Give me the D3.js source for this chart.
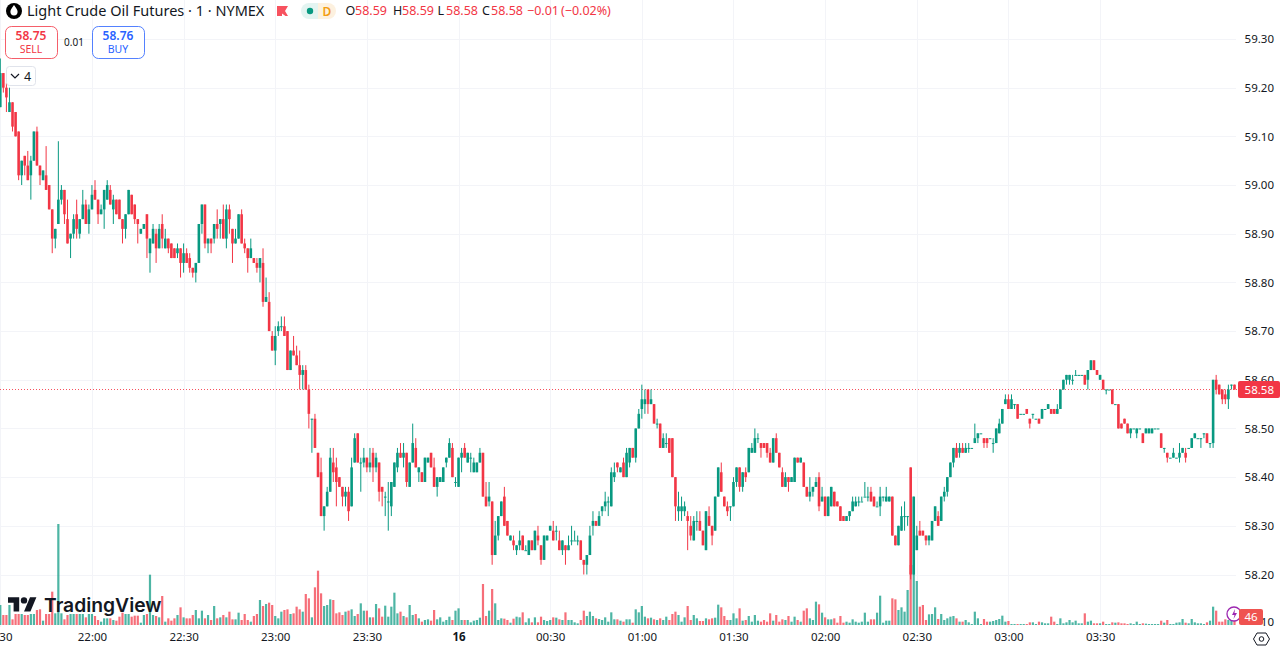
<!DOCTYPE html>
<html>
<head>
<meta charset="utf-8">
<title>Light Crude Oil Futures</title>
<script src="https://cdn.jsdelivr.net/npm/d3@7"></script>
<style>
    html, body { margin: 0; padding: 0; background: #fff; overflow: hidden; }
    text { font-family: "Noto Sans", Roboto, sans-serif; fill: #131722; }
</style>
</head>
<body>
<div id="chart"></div>
<script>
"use strict";

// one candle per minute, prices in hundredths of a dollar
const opens = [
5916,5923,5920,5915,5917,5915,5911,5902,5906,5904,
5902,5905,5911,5904,5901,5902,5900,5895,5889,5892,
5897,5899,5893,5889,5890,5894,5890,5893,5896,5892,
5895,5899,5897,5894,5895,5897,5899,5895,5897,5897,
5893,5891,5894,5898,5896,5893,5890,5891,5894,5886,
5888,5890,5887,5892,5887,5889,5888,5887,5886,5887,
5884,5886,5885,5883,5882,5884,5892,5896,5888,5889,
5889,5892,5892,5893,5889,5895,5891,5888,5889,5894,
5888,5887,5885,5885,5884,5883,5884,5876,5876,5869,
5866,5870,5871,5871,5870,5862,5866,5865,5863,5861,
5862,5858,5852,5852,5845,5841,5832,5834,5837,5843,
5842,5840,5838,5836,5837,5834,5843,5849,5843,5843,
5844,5842,5845,5842,5843,5838,5836,5835,5834,5838,
5842,5845,5844,5845,5838,5843,5846,5841,5841,5839,
5843,5845,5842,5838,5839,5839,5843,5844,5846,5839,
5838,5844,5846,5843,5844,5841,5841,5843,5845,5836,
5835,5835,5824,5828,5832,5836,5831,5827,5827,5825,
5826,5828,5825,5824,5827,5825,5828,5826,5823,5827,
5829,5829,5829,5827,5825,5826,5825,5827,5827,5827,
5827,5823,5822,5824,5830,5831,5830,5833,5834,5835,
5834,5840,5843,5841,5843,5840,5843,5846,5844,5850,
5854,5855,5858,5855,5855,5851,5851,5846,5847,5848,
5848,5840,5833,5833,5833,5832,5830,5827,5831,5831,
5829,5825,5832,5830,5829,5836,5841,5836,5834,5834,
5834,5839,5842,5838,5841,5841,5845,5845,5848,5847,
5847,5847,5845,5843,5848,5845,5841,5838,5840,5839,
5839,5844,5843,5843,5838,5836,5837,5838,5840,5835,
5836,5832,5834,5837,5835,5834,5832,5831,5832,5833,
5834,5835,5835,5836,5836,5837,5836,5834,5834,5836,
5835,5835,5836,5828,5826,5829,5832,5832,5842,5820,
5825,5829,5829,5828,5827,5827,5831,5832,5831,5836,
5837,5840,5843,5846,5845,5846,5845,5846,5846,5847,
5848,5849,5848,5848,5848,5847,5847,5849,5851,5855,
5856,5854,5855,5855,5853,5853,5854,5852,5853,5852,
5852,5852,5854,5854,5854,5854,5853,5854,5858,5860,
5860,5860,5861,5861,5861,5861,5860,5862,5864,5862,
5860,5860,5858,5858,5858,5855,5855,5851,5852,5851,
5849,5850,5849,5850,5849,5849,5849,5849,5850,5850,
5849,5846,5845,5844,5844,5844,5844,5845,5845,5846,
5846,5848,5848,5848,5849,5849,5847,5847,5860,5859,
5858,5857,5856,5859,5859];

const closes = [
5923,5920,5918,5917,5912,5910,5902,5905,5904,5901,
5905,5911,5904,5902,5903,5899,5895,5889,5891,5897,
5899,5894,5888,5890,5893,5891,5893,5896,5892,5895,
5898,5897,5894,5895,5899,5900,5896,5897,5894,5893,
5891,5894,5899,5894,5893,5892,5891,5892,5889,5889,
5891,5887,5891,5889,5889,5887,5885,5885,5887,5884,
5886,5884,5883,5882,5884,5892,5896,5888,5889,5888,
5892,5891,5893,5889,5895,5893,5888,5889,5894,5888,
5887,5885,5887,5884,5883,5885,5876,5877,5870,5866,
5869,5871,5871,5869,5862,5866,5865,5863,5861,5862,
5858,5853,5852,5846,5840,5832,5834,5837,5844,5841,
5839,5838,5836,5837,5833,5842,5848,5843,5843,5844,
5842,5843,5842,5844,5837,5837,5836,5835,5839,5843,
5845,5844,5845,5839,5843,5847,5842,5842,5839,5844,
5844,5842,5838,5840,5840,5842,5844,5847,5840,5839,
5844,5845,5844,5845,5844,5843,5843,5845,5836,5834,
5836,5824,5828,5832,5835,5830,5828,5828,5826,5826,
5827,5825,5825,5827,5825,5829,5827,5823,5828,5828,
5830,5827,5829,5825,5827,5825,5826,5827,5827,5827,
5823,5822,5824,5828,5831,5830,5832,5834,5835,5835,
5841,5841,5842,5842,5840,5845,5846,5844,5850,5853,
5856,5856,5855,5856,5851,5851,5846,5848,5847,5845,
5840,5834,5834,5834,5834,5831,5828,5831,5831,5829,
5826,5833,5830,5828,5836,5842,5837,5834,5833,5834,
5839,5842,5838,5841,5840,5846,5846,5848,5848,5846,
5846,5845,5843,5848,5845,5842,5838,5840,5839,5840,
5844,5843,5844,5838,5836,5837,5838,5839,5834,5836,
5832,5836,5838,5834,5834,5831,5831,5832,5833,5835,
5835,5835,5835,5836,5836,5835,5834,5834,5836,5836,
5836,5836,5828,5826,5830,5832,5832,5832,5820,5836,
5828,5828,5828,5827,5828,5831,5834,5830,5836,5837,
5840,5843,5846,5844,5846,5845,5846,5846,5846,5848,
5849,5849,5847,5847,5848,5847,5850,5851,5854,5856,
5854,5856,5855,5852,5853,5853,5853,5851,5853,5852,
5851,5854,5854,5855,5853,5853,5854,5858,5860,5861,
5861,5860,5861,5861,5861,5859,5862,5864,5862,5861,
5861,5858,5858,5858,5855,5855,5850,5850,5851,5849,
5850,5850,5850,5850,5847,5850,5850,5850,5850,5850,
5846,5846,5844,5844,5845,5844,5845,5846,5844,5846,
5848,5849,5848,5848,5849,5847,5847,5860,5858,5857,
5856,5856,5858,5859,5858];

const highs = [
5926,5923,5921,5920,5917,5915,5911,5905,5906,5907,
5906,5911,5912,5904,5903,5908,5900,5895,5891,5909,
5900,5899,5897,5890,5894,5897,5893,5899,5897,5896,
5900,5901,5897,5896,5899,5901,5900,5898,5897,5897,
5893,5894,5899,5898,5896,5893,5891,5892,5894,5889,
5892,5891,5892,5894,5891,5889,5888,5887,5888,5887,
5888,5887,5886,5883,5884,5892,5896,5896,5889,5889,
5892,5895,5893,5896,5896,5896,5891,5891,5894,5895,
5889,5887,5889,5885,5885,5885,5887,5881,5878,5870,
5871,5872,5873,5873,5870,5866,5869,5867,5866,5863,
5863,5859,5852,5853,5845,5844,5834,5838,5846,5846,
5844,5840,5838,5838,5838,5844,5849,5849,5844,5846,
5844,5846,5846,5845,5843,5838,5837,5839,5839,5843,
5846,5847,5847,5845,5843,5851,5848,5842,5841,5844,
5844,5845,5844,5840,5840,5842,5844,5848,5847,5840,
5844,5846,5847,5845,5845,5844,5843,5846,5845,5839,
5839,5835,5831,5832,5835,5838,5831,5828,5828,5826,
5829,5828,5826,5827,5827,5829,5830,5826,5828,5828,
5830,5831,5830,5829,5827,5826,5828,5830,5829,5828,
5827,5823,5824,5830,5833,5831,5833,5834,5837,5836,
5842,5843,5843,5842,5844,5846,5846,5846,5850,5854,
5859,5858,5858,5858,5855,5852,5851,5849,5849,5848,
5848,5840,5837,5836,5835,5833,5832,5832,5833,5833,
5829,5833,5834,5830,5836,5842,5843,5836,5835,5834,
5840,5842,5842,5841,5842,5846,5847,5850,5849,5847,
5847,5847,5846,5848,5849,5845,5842,5841,5840,5840,
5844,5844,5844,5843,5838,5840,5838,5840,5841,5838,
5836,5836,5838,5837,5835,5834,5832,5832,5833,5836,
5836,5836,5836,5839,5838,5838,5836,5835,5838,5836,
5838,5836,5836,5828,5830,5834,5835,5832,5842,5836,
5830,5831,5829,5828,5828,5831,5834,5833,5836,5838,
5840,5843,5846,5847,5847,5847,5847,5847,5846,5851,
5849,5849,5848,5848,5848,5848,5850,5852,5854,5857,
5857,5857,5855,5855,5853,5853,5854,5852,5853,5852,
5852,5854,5854,5855,5854,5854,5855,5858,5860,5861,
5861,5861,5862,5861,5861,5861,5862,5864,5864,5862,
5861,5860,5858,5858,5858,5855,5855,5851,5852,5851,
5850,5850,5850,5850,5849,5850,5850,5850,5850,5850,
5849,5846,5845,5844,5846,5844,5847,5846,5846,5846,
5848,5849,5848,5848,5849,5849,5847,5860,5861,5859,
5858,5858,5859,5859,5859];

const lows = [
5916,5919,5915,5915,5911,5910,5901,5900,5902,5901,
5897,5905,5904,5900,5901,5899,5895,5886,5887,5892,
5896,5892,5888,5885,5889,5889,5889,5893,5892,5890,
5895,5897,5892,5894,5891,5897,5896,5892,5894,5893,
5888,5889,5894,5894,5892,5888,5890,5891,5885,5882,
5888,5884,5887,5887,5887,5886,5885,5885,5885,5881,
5882,5884,5882,5881,5880,5884,5890,5887,5886,5886,
5888,5889,5889,5889,5887,5890,5884,5888,5889,5888,
5886,5882,5885,5884,5882,5880,5875,5876,5870,5866,
5863,5869,5870,5869,5862,5862,5865,5863,5858,5858,
5858,5850,5845,5846,5840,5832,5829,5834,5837,5839,
5834,5838,5834,5834,5831,5834,5843,5843,5837,5842,
5841,5841,5839,5841,5835,5834,5832,5829,5832,5838,
5841,5844,5842,5838,5838,5843,5842,5839,5839,5839,
5843,5842,5838,5836,5839,5839,5842,5844,5840,5838,
5838,5841,5844,5843,5841,5841,5841,5843,5836,5834,
5834,5822,5824,5827,5832,5830,5828,5827,5825,5824,
5825,5825,5825,5824,5825,5825,5826,5822,5823,5827,
5829,5827,5827,5825,5824,5822,5825,5826,5827,5826,
5823,5820,5820,5824,5828,5830,5830,5832,5833,5832,
5834,5839,5841,5841,5840,5840,5842,5844,5843,5850,
5852,5853,5853,5855,5851,5850,5846,5846,5846,5845,
5840,5831,5831,5831,5832,5825,5827,5827,5829,5829,
5826,5825,5830,5826,5829,5836,5837,5834,5832,5831,
5834,5838,5837,5837,5839,5841,5845,5845,5847,5844,
5846,5844,5843,5843,5845,5842,5838,5838,5837,5839,
5839,5843,5843,5838,5836,5835,5836,5838,5833,5835,
5832,5832,5834,5834,5834,5831,5831,5831,5831,5833,
5834,5834,5835,5836,5835,5835,5834,5834,5832,5835,
5835,5835,5828,5826,5826,5829,5829,5830,5819,5820,
5825,5828,5828,5826,5826,5827,5831,5830,5831,5835,
5836,5840,5842,5844,5844,5845,5845,5845,5846,5847,
5847,5849,5846,5846,5848,5845,5847,5849,5851,5855,
5854,5854,5854,5852,5853,5853,5853,5850,5852,5852,
5851,5852,5854,5854,5853,5853,5853,5854,5858,5859,
5859,5859,5861,5861,5861,5859,5858,5862,5862,5861,
5860,5858,5857,5858,5855,5855,5850,5850,5851,5849,
5848,5850,5848,5850,5847,5849,5849,5849,5850,5850,
5846,5845,5843,5844,5844,5844,5843,5845,5843,5846,
5846,5848,5848,5846,5848,5847,5846,5846,5857,5857,
5855,5855,5854,5858,5858];

const volumes = [
120,60,60,120,34,66,66,66,60,60,
66,66,90,94,26,66,66,200,70,606,
70,34,60,66,66,66,66,66,46,66,
66,54,30,20,40,40,40,30,26,50,
74,66,66,50,56,56,14,60,66,302,
60,54,46,174,20,40,26,40,60,106,
46,40,40,60,90,40,86,40,60,30,
114,40,46,60,46,80,34,34,74,30,
66,30,20,54,66,150,114,126,134,120,
54,40,80,90,94,66,70,110,94,80,
186,160,46,226,326,190,114,120,154,150,
70,76,60,80,86,94,54,66,130,86,
86,46,46,126,100,50,116,50,110,194,
70,80,54,46,120,60,66,40,20,30,
34,26,90,34,46,20,30,50,30,86,
100,30,30,30,16,26,30,44,246,54,
86,216,130,30,40,38,30,14,38,50,
46,76,16,40,16,46,16,50,30,24,
30,46,44,34,30,76,30,30,16,10,
30,86,54,80,54,40,36,30,46,20,
76,34,34,26,20,34,34,14,94,76,
114,50,40,44,34,30,40,30,50,30,
66,80,60,20,46,114,30,60,40,24,
24,40,34,40,44,122,106,54,30,30,
70,40,100,26,30,54,20,60,26,20,
30,20,70,26,60,20,34,30,54,20,
50,30,20,86,100,40,30,140,124,74,
46,34,34,40,14,54,14,20,14,34,
20,14,20,74,20,34,34,74,176,14,
26,26,160,154,90,106,80,210,360,360,
264,110,120,30,64,66,106,36,66,30,
40,50,54,40,20,20,30,16,6,80,
40,6,36,20,20,24,30,36,56,20,
24,6,6,6,6,6,6,16,16,6,
20,16,10,10,50,20,6,40,10,16,
30,16,26,10,10,70,20,26,10,10,
10,20,6,6,16,14,16,10,10,6,
10,6,20,6,10,8,6,6,6,6,
26,14,30,6,6,14,16,36,14,10,
36,16,10,10,6,16,26,110,86,20,
20,34,30,40,46];

const tickBars = [0, 30, 60, 90, 120, 150, 180, 210, 240, 270, 300, 330, 360];
const tickLabels = ["21:30", "22:00", "22:30", "23:00", "23:30", "16", "00:30", "01:00", "01:30", "02:00", "02:30", "03:00", "03:30"];
const priceTicks = [59.30, 59.20, 59.10, 59.00, 58.90, 58.80, 58.70, 58.60, 58.50, 58.40, 58.30, 58.20];
const lastClose = 58.58;
const lastVolume = 46;

const UP = "#089981";
const DOWN = "#f23645";
const GRID = "#f3f4f8";
const width = 1280, height = 649;

var svg = d3.select("#chart")
    .append("svg")
    .attr("width", width)
    .attr("height", height)
    .style("display", "block");

// scales
var x = d3.scaleLinear().domain([0, 404]).range([0.3, 1234.5]);
var y = d3.scaleLinear().domain([58.20, 59.30]).range([574.5, 39]);
var yVol = d3.scaleLinear().domain([0, 606]).range([625, 524]);

var bars = opens.map((o, i) => ({
    i: i,
    open: o / 100,
    close: closes[i] / 100,
    high: highs[i] / 100,
    low: lows[i] / 100,
    vol: volumes[i]
}));
var barColor = d => d.close < d.open ? DOWN : UP;

// grid
svg.append("g").selectAll("line")
    .data(priceTicks)
    .join("line")
    .attr("x1", 0).attr("x2", 1236)
    .attr("y1", d => Math.round(y(d)) + 0.5)
    .attr("y2", d => Math.round(y(d)) + 0.5)
    .attr("stroke", GRID);

svg.append("g").selectAll("line")
    .data(tickBars)
    .join("line")
    .attr("x1", d => Math.round(x(d)) + 0.5)
    .attr("x2", d => Math.round(x(d)) + 0.5)
    .attr("y1", 0).attr("y2", 627)
    .attr("stroke", GRID);

// volume
svg.append("g").selectAll("rect")
    .data(bars)
    .join("rect")
    .attr("x", d => x(d.i) - 1.1)
    .attr("width", 2.2)
    .attr("y", d => yVol(d.vol))
    .attr("height", d => yVol(0) - yVol(d.vol))
    .attr("fill", barColor)
    .attr("fill-opacity", 0.72);

// last price line
svg.append("line")
    .attr("x1", 0).attr("x2", 1238)
    .attr("y1", Math.floor(y(lastClose)) + 0.5).attr("y2", Math.floor(y(lastClose)) + 0.5)
    .attr("stroke", "#f7525f")
    .attr("stroke-width", 1)
    .attr("stroke-dasharray", "1 2");

// wicks
svg.append("g").selectAll("line")
    .data(bars)
    .join("line")
    .attr("x1", d => x(d.i))
    .attr("x2", d => x(d.i))
    .attr("y1", d => y(d.high))
    .attr("y2", d => y(d.low))
    .attr("stroke", barColor)
    .attr("stroke-width", 1);

// bodies
svg.append("g").selectAll("rect")
    .data(bars)
    .join("rect")
    .attr("x", d => x(d.i) - 1.3)
    .attr("width", 2.6)
    .attr("y", d => y(Math.max(d.open, d.close)))
    .attr("height", d => Math.max(1, Math.abs(y(d.open) - y(d.close))))
    .attr("fill", barColor);

// axes
var priceAxis = svg.append("g")
    .attr("transform", "translate(1236,0)")
    .call(d3.axisRight(y).tickValues(priceTicks).tickFormat(d3.format(".2f")).tickSize(0));
priceAxis.select(".domain").remove();
priceAxis.selectAll("text")
    .attr("x", 38)
    .attr("text-anchor", "end")
    .style("font-size", "11.5px")
    .style("font-family", '"Noto Sans", Roboto, sans-serif');

var timeAxis = svg.append("g")
    .attr("transform", "translate(0,627)")
    .call(d3.axisBottom(x).tickValues(tickBars).tickFormat((d, i) => tickLabels[i]).tickSize(0));
timeAxis.select(".domain").remove();
timeAxis.selectAll("text")
    .attr("y", 6)
    .attr("dx", d => d === 0 ? -3 : 0)
    .style("font-size", "11.5px")
    .style("font-family", '"Noto Sans", Roboto, sans-serif')
    .style("font-weight", d => d === 150 ? 700 : 400);

// last price and volume tags
svg.append("rect").attr("x", 1238).attr("y", 381).attr("width", 42).attr("height", 17).attr("rx", 2).attr("fill", DOWN);
svg.append("text").attr("x", 1274).attr("y", 394).attr("text-anchor", "end")
    .style("font-size", "11.5px").style("fill", "#fff").text(d3.format(".2f")(lastClose));

svg.append("text").attr("x", 1274).attr("y", 626).attr("text-anchor", "end")
    .style("font-size", "11.5px").text("10");

svg.append("circle").attr("cx", 1234).attr("cy", 614).attr("r", 7).attr("fill", "#fff").attr("stroke", "#9c27b0").attr("stroke-width", 1.3);
svg.append("path").attr("d", "M1235 609l-3 6h2.5l-1 4 3.5-6h-2.5z").attr("fill", "#9c27b0");

svg.append("rect").attr("x", 1239).attr("y", 609).attr("width", 24).attr("height", 16).attr("rx", 2).attr("fill", "#ef5350");
svg.append("text").attr("x", 1251).attr("y", 621).attr("text-anchor", "middle")
    .style("font-size", "11.5px").style("fill", "#fff").text(lastVolume);

// settings icon
svg.append("path").attr("d", "M1257 633h9l3.5 6-3.5 6h-9l-3.5-6z").attr("fill", "none").attr("stroke", "#131722");
svg.append("circle").attr("cx", 1261.5).attr("cy", 639).attr("r", 2.3).attr("fill", "none").attr("stroke", "#131722");

// TradingView logo
var logo = svg.append("g").attr("transform", "translate(8,594) scale(0.8)");
logo.append("path").attr("d", "M14 22H7V11H0V4h14v18zM28 22h-8l7.5-18h8L28 22z").attr("fill", "#131722");
logo.append("circle").attr("cx", 20).attr("cy", 8).attr("r", 4).attr("fill", "#131722");
svg.append("text").attr("x", 44).attr("y", 612)
    .style("font-family", "Inter, sans-serif").style("font-size", "19.3px").style("font-weight", 600)
    .text("TradingView");

// header
svg.append("circle").attr("cx", 14).attr("cy", 11).attr("r", 8).attr("fill", "#000");
svg.append("path").attr("d", "M14 5c2 3 3.6 4.8 3.6 6.8a3.6 3.6 0 0 1-7.2 0C10.4 9.8 12 8 14 5z").attr("fill", "#fff");
svg.append("text").attr("x", 27).attr("y", 16).style("font-size", "14.5px").text("Light Crude Oil Futures · 1 · NYMEX");
svg.append("path").attr("d", "M277 6h11l-3 5 3 5h-2.5L282 13.5V16h-5z").attr("fill", "#f7525f");

svg.append("path").attr("d", "M318 3h-9a8 8 0 0 0 0 16h9z").attr("fill", "#e3f4f1");
svg.append("path").attr("d", "M318 3h10a8 8 0 0 1 0 16h-10z").attr("fill", "#fdf1df");
svg.append("circle").attr("cx", 310).attr("cy", 11).attr("r", 3.2).attr("fill", UP);
svg.append("text").attr("x", 327).attr("y", 15.5).attr("text-anchor", "middle")
    .style("font-size", "12px").style("font-weight", 600).style("fill", "#f39c12").text("D");

var ohlcLabels = [["O", 345.5], ["H", 393], ["L", 437.5], ["C", 482]];
var ohlcValues = [["58.59", 355], ["58.59", 402], ["58.58", 446], ["58.58", 491], ["−0.01", 527], ["(−0.02%)", 561]];
svg.append("g").selectAll("text").data(ohlcLabels).join("text")
    .attr("x", d => d[1]).attr("y", 15)
    .style("font-size", "12.5px")
    .text(d => d[0]);
svg.append("g").selectAll("text").data(ohlcValues).join("text")
    .attr("x", d => d[1]).attr("y", 15)
    .style("font-size", "12.5px")
    .style("fill", DOWN)
    .text(d => d[0]);

// sell / buy boxes
var orderBoxes = [
    { x: 5, color: "#f23645", price: "58.75", label: "SELL" },
    { x: 92, color: "#2962ff", price: "58.76", label: "BUY" }
];
orderBoxes.forEach(b => {
    svg.append("rect").attr("x", b.x + 0.5).attr("y", 26.5).attr("width", 52).attr("height", 32).attr("rx", 6)
        .attr("fill", "#fff").attr("stroke", b.color).attr("stroke-opacity", 0.8);
    svg.append("text").attr("x", b.x + 26).attr("y", 40).attr("text-anchor", "middle")
        .style("font-size", "12px").style("font-weight", 600).style("fill", b.color).text(b.price);
    svg.append("text").attr("x", b.x + 26).attr("y", 53).attr("text-anchor", "middle")
        .style("font-size", "10.5px").style("fill", b.color).text(b.label);
});
svg.append("text").attr("x", 74).attr("y", 46).attr("text-anchor", "middle")
    .style("font-size", "10px").text("0.01");

// collapsed indicators button
svg.append("rect").attr("x", 6.5).attr("y", 66.5).attr("width", 29).attr("height", 19).attr("rx", 3)
    .attr("fill", "#fff").attr("fill-opacity", 0.85).attr("stroke", "#e0e3eb");
svg.append("path").attr("d", "M11 74l4 4 4-4").attr("fill", "none").attr("stroke", "#131722").attr("stroke-width", 1.2);
svg.append("text").attr("x", 24).attr("y", 80.5).style("font-size", "12.5px").text("4");
</script>
</body>
</html>
